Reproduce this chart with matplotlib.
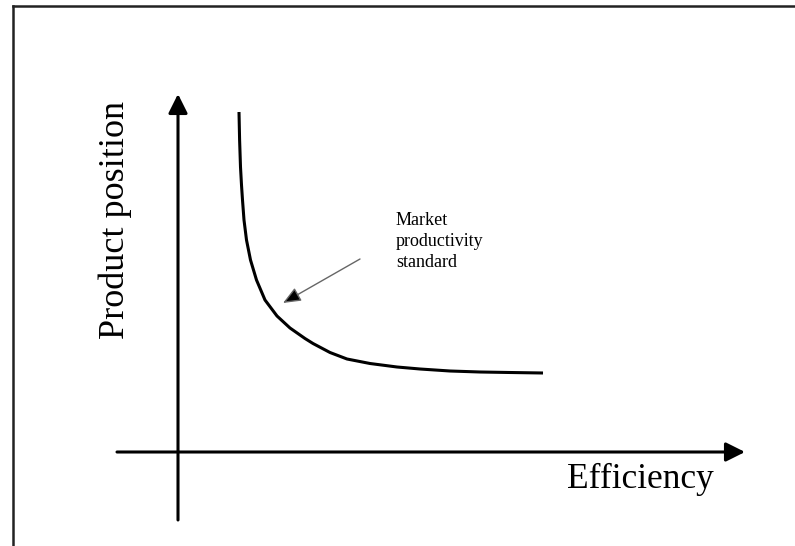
import matplotlib.pyplot as plt
from matplotlib.lines import Line2D

# Curve (arbitrary units, origin at the axes cross)
efficiency = [1.22, 1.232, 1.25, 1.27, 1.29, 1.32, 1.37, 1.45, 1.57, 1.74,
              1.98, 2.24, 2.54, 2.70, 3.04, 3.38, 3.84, 4.38, 4.84,
              5.44, 6.04, 6.64, 7.30]
position = [6.80, 6.24, 5.70, 5.34, 5.04, 4.64, 4.24, 3.84, 3.44, 3.04,
            2.72, 2.48, 2.27, 2.17, 1.99, 1.86, 1.77, 1.70, 1.66,
            1.62, 1.60, 1.59, 1.58]

x_label = "Efficiency"
y_label = "Product position"
note = "Market\nproductivity\nstandard"

plt.rcParams['font.family'] = ['Liberation Serif', 'DejaVu Serif']

fig = plt.figure(figsize=(7.95, 5.46), dpi=100)
ax = fig.add_axes([0, 0, 1, 1])
ax.set_xlim(-3.56, 12.34)
ax.set_ylim(-1.88, 9.04)
ax.axis('off')

# outer frame (cut off at right and bottom)
fig.add_artist(Line2D([12.5 / 795, 12.5 / 795], [0, 1 - 5.5 / 546],
                      transform=fig.transFigure, color='#222222', lw=1.8))
fig.add_artist(Line2D([12.5 / 795, 1], [1 - 5.5 / 546, 1 - 5.5 / 546],
                      transform=fig.transFigure, color='#222222', lw=1.8))

# axes with arrow heads
axis_style = dict(arrowstyle='-|>,head_length=0.58,head_width=0.29',
                  lw=2.2, color='black', mutation_scale=20,
                  shrinkA=0, shrinkB=0)
ax.annotate('', xy=(11.34, 0), xytext=(-1.22, 0), arrowprops=axis_style)
ax.annotate('', xy=(0, 7.16), xytext=(0, -1.36), arrowprops=axis_style)

ax.plot(efficiency, position, color='black', lw=2.2,
        solid_capstyle='butt', solid_joinstyle='round')

ax.annotate('', xy=(2.10, 2.98), xytext=(3.64, 3.86),
            arrowprops=dict(arrowstyle='-|>,head_length=0.6,head_width=0.25',
                            lw=1.0, color='#666666', fc='black', ec='#666666',
                            mutation_scale=18, shrinkA=0, shrinkB=0))
ax.text(4.36, 4.80, note, fontsize=13, ha='left', va='top',
        linespacing=1.3)

ax.text(9.24, -0.72, x_label, fontsize=25.5, ha='center', va='baseline')
ax.text(-1.26, 4.64, y_label, fontsize=26, rotation=90,
        ha='center', va='center')

fig.savefig('out.png', dpi=100)
